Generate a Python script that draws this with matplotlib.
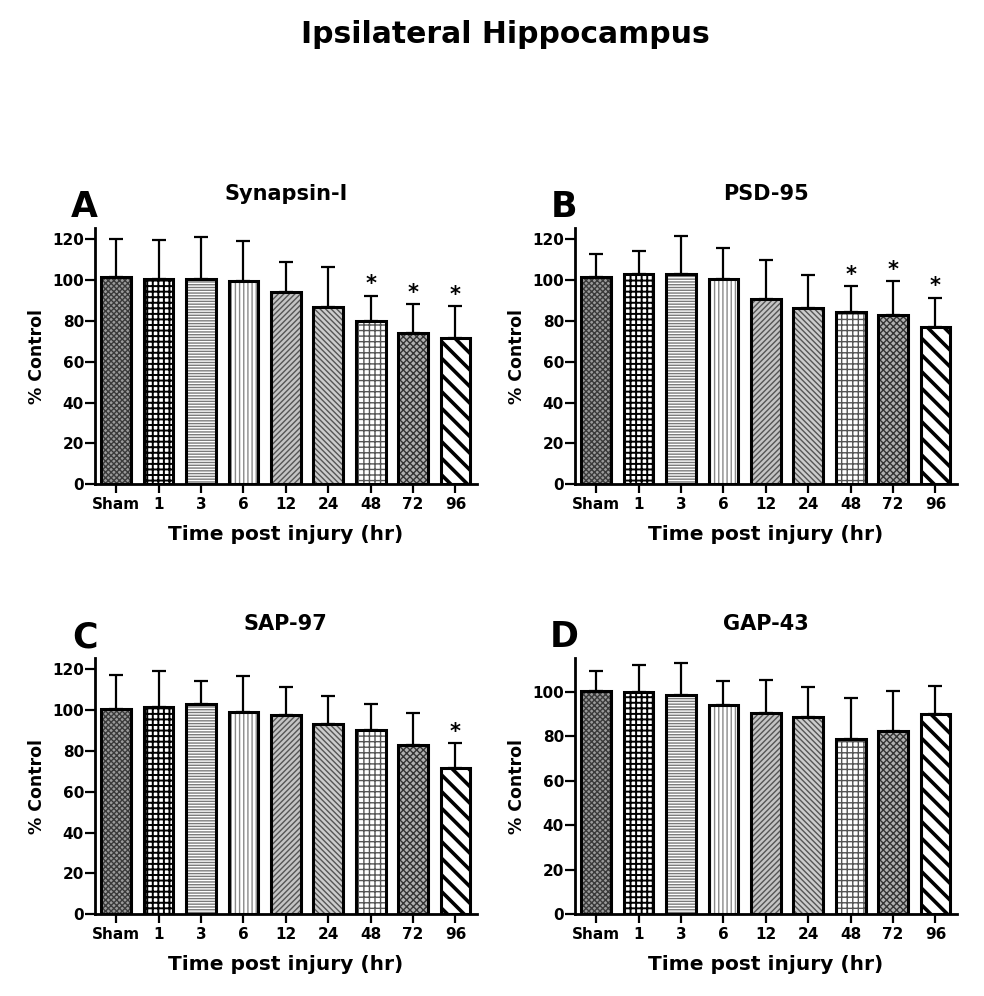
import numpy as np
import matplotlib
matplotlib.use("Agg")
import matplotlib.pyplot as plt

# ---- data (% of control) ----
groups = ["Sham", "1", "3", "6", "12", "24", "48", "72", "96"]

syn_mean = [101.7, 100.4, 100.7, 99.6, 94.4, 87.0, 80.2, 74.3, 71.5]
syn_top = [120.0, 119.6, 121.3, 118.9, 108.7, 106.4, 92.4, 88.3, 87.3]
syn_sig = [6, 7, 8]

psd_mean = [101.4, 103.0, 102.9, 100.7, 90.9, 86.2, 84.2, 83.1, 77.1]
psd_top = [113.0, 114.0, 121.8, 115.9, 109.7, 102.5, 97.1, 99.4, 91.4]
psd_sig = [6, 7, 8]

sap_mean = [100.6, 101.4, 102.9, 98.9, 97.6, 93.4, 90.3, 83.1, 71.5]
sap_top = [117.0, 119.3, 114.3, 116.9, 111.5, 106.8, 103.0, 98.8, 83.8]
sap_sig = [8]

gap_mean = [100.3, 100.0, 98.5, 94.1, 90.5, 88.9, 78.7, 82.3, 89.9]
gap_top = [109.3, 112.3, 112.9, 105.0, 105.3, 102.3, 97.1, 100.6, 102.6]
gap_sig = []

# one fill style per time point: (face, hatch, hatch colour, hatch width)
styles = [
    ("#9a9a9a", "xxxxxx", "#3a3a3a", 1.0),
    ("white", "+++", "black", 1.4),
    ("white", "------", "#7a7a7a", 1.0),
    ("white", "||||", "#8a8a8a", 1.0),
    ("#c4c4c4", "//////", "#555555", 1.0),
    ("#cccccc", "\\\\\\\\\\\\", "#555555", 1.0),
    ("white", "+++", "#555555", 1.0),
    ("#b0b0b0", "xxxxx", "#333333", 1.0),
    ("white", "\\\\", "black", 2.6),
]

plt.rcParams["font.family"] = ["DejaVu Sans"]
plt.rcParams["font.weight"] = "bold"

fig = plt.figure(figsize=(9.84, 9.96), dpi=100)
W, H = 984.0, 996.0


def panel(left_px, bottom_px, top_px, ytop, yticks, mean, top, sig,
          letter, name, letter_x, letter_base, name_base, xlab_base):
    ax = fig.add_axes([left_px / W, (H - bottom_px) / H, 381.7 / W,
                       (bottom_px - top_px) / H])
    x = np.arange(len(groups))
    mean = np.array(mean)
    top = np.array(top)
    for i in range(len(groups)):
        face, hatch, hc, hw = styles[i]
        b = ax.bar(x[i], mean[i], 0.7, color=face, edgecolor=hc,
                   hatch=hatch, linewidth=0, zorder=2)
        if hasattr(b[0], "set_hatch_linewidth"):
            b[0].set_hatch_linewidth(hw)
    ax.bar(x, mean, 0.7, fill=False, edgecolor="black", linewidth=2.2,
           zorder=3)
    ax.errorbar(x, mean, yerr=[np.zeros(len(x)), top - mean], fmt="none",
                ecolor="black", elinewidth=1.6, capsize=5, capthick=1.6,
                zorder=1)
    for i in sig:
        ax.text(x[i], top[i] + 5.5, "*", ha="center", va="center",
                fontsize=15, fontweight="bold")
    ax.set_xlim(-0.5, 8.5)
    ax.set_ylim(0, ytop)
    ax.set_yticks(yticks)
    ax.set_xticks(x)
    ax.set_xticklabels(groups)
    for s in ["top", "right"]:
        ax.spines[s].set_visible(False)
    for s in ["left", "bottom"]:
        ax.spines[s].set_linewidth(2.0)
    ax.tick_params(axis="y", length=7, width=1.6, pad=1, labelsize=11)
    ax.tick_params(axis="x", length=6.5, width=1.6, pad=3, labelsize=11)
    cx = left_px + 381.7 / 2
    fig.text(letter_x / W, (H - letter_base) / H, letter, fontsize=25,
             fontweight="bold", ha="center", va="baseline")
    fig.text(cx / W, (H - name_base) / H, name, fontsize=15,
             fontweight="bold", ha="center", va="baseline")
    fig.text(cx / W, (H - xlab_base) / H, "Time post injury (hr)",
             fontsize=14.5, fontweight="bold", ha="center", va="baseline")
    fig.text((left_px - 58) / W, (H - (bottom_px + top_px) / 2) / H,
             "% Control", fontsize=12.5, fontweight="bold", rotation=90,
             ha="center", va="center")
    return ax


ticks120 = [0, 20, 40, 60, 80, 100, 120]
ticks100 = [0, 20, 40, 60, 80, 100]

panel(95, 484.3, 228, 125.5, ticks120, syn_mean, syn_top, syn_sig,
      "A", "Synapsin-I", 84.5, 217, 200, 540)
panel(575, 484.3, 228, 125.5, ticks120, psd_mean, psd_top, psd_sig,
      "B", "PSD-95", 564, 217, 200, 540)
panel(95, 914.3, 658, 125.5, ticks120, sap_mean, sap_top, sap_sig,
      "C", "SAP-97", 84.5, 647, 630, 970)
panel(575, 914.3, 658, 115.3, ticks100, gap_mean, gap_top, gap_sig,
      "D", "GAP-43", 564, 647, 630, 970)

fig.text(505 / W, (H - 43) / H, "Ipsilateral Hippocampus", fontsize=21.5,
         fontweight="bold", ha="center", va="baseline")

fig.savefig("out.png", dpi=100)
